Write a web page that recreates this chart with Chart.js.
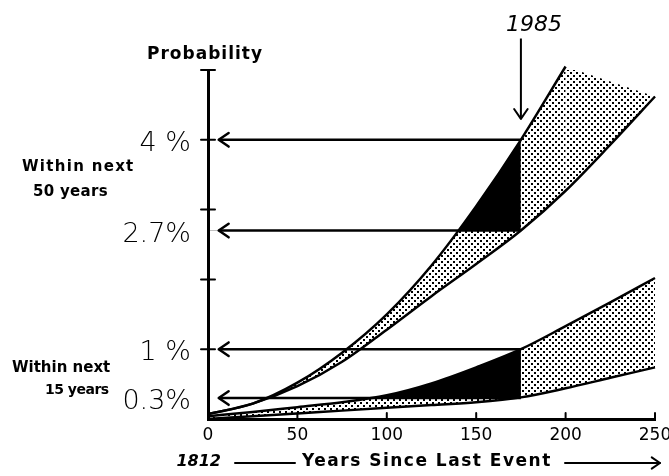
<!DOCTYPE html>
<html>
<head>
<meta charset="utf-8">
<script src="https://cdn.jsdelivr.net/npm/chart.js@4.4.1/dist/chart.umd.min.js"></script>
<style>
  html, body { margin: 0; padding: 0; background: #fff; }
  #wrap { width: 669px; height: 476px; }
</style>
</head>
<body>
<div id="wrap"><canvas id="chart"></canvas></div>
<script>
// years since the last event (1812)
const years = [0, 25, 50, 75, 100, 125, 150, 175, 200, 225, 250];
// probability (%) of an event within the next 50 years, upper / lower bound
const fiftyHigh = [0.07, 0.22, 0.52, 0.95, 1.5, 2.2, 3.05, 4.0, 5.05];
const fiftyLow = [0.07, 0.22, 0.47, 0.82, 1.28, 1.76, 2.22, 2.7, 3.27, 3.93, 4.62];
// probability (%) of an event within the next 15 years, upper / lower bound
const fifteenHigh = [0.04, 0.1, 0.17, 0.24, 0.34, 0.51, 0.74, 1.0, 1.33, 1.67, 2.02];
const fifteenLow = [0, 0.04, 0.08, 0.12, 0.16, 0.2, 0.24, 0.31, 0.44, 0.59, 0.74];

const eventYear = 175;          // 1985
const arrowLevels = [4, 2.7, 1, 0.3];
const arrowTipYear = 6;
const yearArrow = [5.45, 4.3];   // the "1985" arrow, top and tip

const xTicks = [0, 50, 100, 150, 200, 250];
const yTickValues = [0.3, 1, 2.7, 4];
const yTickLabels = ['0.3%', '1 %', '2.7%', '4 %'];
const yTickMarks = [1, 2, 3, 4, 5];

const FONT = '"DejaVu Sans", sans-serif';

function makeDots() {
    const c = document.createElement('canvas');
    c.width = 6;
    c.height = 6;
    const g = c.getContext('2d');
    g.fillStyle = '#000';
    g.fillRect(0, 0, 2, 2);
    g.fillRect(3, 3, 2, 2);
    return g.createPattern(c, 'repeat');
}
const dots = makeDots();

const pts = vals => vals.map((v, i) => ({x: years[i], y: v}));
const upToEvent = vals => pts(vals).filter(p => p.x <= eventYear);

function line(data, extra) {
    return Object.assign({
        data: data,
        borderColor: '#000',
        borderWidth: 2.5,
        pointRadius: 0,
        fill: false,
        cubicInterpolationMode: 'monotone',
        clip: false,
    }, extra);
}

const datasets = [];
arrowLevels.forEach(lvl => {
    datasets.push(line([{x: eventYear, y: lvl}, {x: arrowTipYear, y: lvl}], {
        cubicInterpolationMode: 'default', tension: 0, arrowHead: true,
    }));
});
datasets.push(line([{x: eventYear, y: yearArrow[0]}, {x: eventYear, y: yearArrow[1]}], {
    borderWidth: 2, cubicInterpolationMode: 'default', tension: 0, arrowHead: true,
}));
// black parts: probability gained up to 1985
datasets.push(line(upToEvent(fiftyHigh), {
    borderWidth: 0,
    fill: {target: {value: arrowLevels[1]}, above: '#000', below: 'rgba(0,0,0,0)'},
}));
datasets.push(line(upToEvent(fifteenHigh), {
    borderWidth: 0,
    fill: {target: {value: arrowLevels[3]}, above: '#000', below: 'rgba(0,0,0,0)'},
}));
const fiftyLowIndex = datasets.length + 1;
datasets.push(line(pts(fiftyHigh), {fill: fiftyLowIndex, backgroundColor: dots}));
datasets.push(line(pts(fiftyLow)));
// closes the 50-year band on the right
datasets.push(line([
    {x: years[fiftyHigh.length - 1], y: fiftyHigh[fiftyHigh.length - 1]},
    {x: years[fiftyLow.length - 1], y: fiftyLow[fiftyLow.length - 1]},
], {borderWidth: 0, cubicInterpolationMode: 'default', tension: 0, fill: fiftyLowIndex, backgroundColor: dots}));
datasets.push(line(pts(fifteenHigh), {fill: '+1', backgroundColor: dots}));
datasets.push(line(pts(fifteenLow)));

function chevron(ctx, from, tip, len, spread) {
    const a = Math.atan2(tip.y - from.y, tip.x - from.x);
    ctx.beginPath();
    ctx.moveTo(tip.x - len * Math.cos(a - spread), tip.y - len * Math.sin(a - spread));
    ctx.lineTo(tip.x, tip.y);
    ctx.lineTo(tip.x - len * Math.cos(a + spread), tip.y - len * Math.sin(a + spread));
    ctx.stroke();
}

function text(ctx, str, x, y, font, align, spacing) {
    ctx.font = font;
    ctx.textAlign = align || 'left';
    ctx.letterSpacing = (spacing || 0) + 'px';
    ctx.fillText(str, x, y);
}

const annotations = {
    id: 'annotations',
    afterDraw(chart) {
        const {ctx, scales: {x, y}} = chart;
        ctx.save();
        ctx.strokeStyle = '#000';
        ctx.fillStyle = '#000';
        ctx.lineCap = 'round';
        ctx.lineJoin = 'round';

        chart.data.datasets.forEach((ds, i) => {
            if (!ds.arrowHead) return;
            const p = chart.getDatasetMeta(i).data;
            ctx.lineWidth = ds.borderWidth;
            chevron(ctx, p[p.length - 2], p[p.length - 1], 12, 0.6);
        });

        // tick marks across the axes
        ctx.lineWidth = 2;
        const x0 = x.getPixelForValue(0);
        yTickMarks.forEach(v => {
            const py = y.getPixelForValue(v);
            ctx.beginPath();
            ctx.moveTo(x0 - 7, py);
            ctx.lineTo(x0 + 7, py);
            ctx.stroke();
        });
        const y0 = y.getPixelForValue(0);
        xTicks.slice(1).forEach(v => {
            const px = x.getPixelForValue(v);
            ctx.beginPath();
            ctx.moveTo(px, y0);
            ctx.lineTo(px, y0 - 6);
            ctx.stroke();
        });

        ctx.textBaseline = 'middle';
        text(ctx, 'Probability', 205, 55, 'bold 17px ' + FONT, 'center', 1);
        text(ctx, '1985', x.getPixelForValue(eventYear) + 13, 25, 'italic 22px ' + FONT, 'center', 0);
        text(ctx, 'Within next', 22, 167, 'bold 15px ' + FONT, 'left', 1.3);
        text(ctx, '50 years', 33, 192, 'bold 15px ' + FONT, 'left', 0.3);
        text(ctx, 'Within next', 12, 368, 'bold 15px ' + FONT, 'left', 0);
        text(ctx, '15 years', 45, 390, 'bold 14px ' + FONT, 'left', -0.5);

        // axis title with its arrows
        const ty = 462;
        text(ctx, '1812', 221, ty, 'italic bold 16px ' + FONT, 'right', 0);
        text(ctx, 'Years Since Last Event', 302, ty, 'bold 17px ' + FONT, 'left', 1.5);
        ctx.lineWidth = 2;
        ctx.beginPath();
        ctx.moveTo(235, ty + 1);
        ctx.lineTo(295, ty + 1);
        ctx.moveTo(565, ty + 1);
        ctx.lineTo(660, ty + 1);
        ctx.stroke();
        chevron(ctx, {x: 565, y: ty + 1}, {x: 660, y: ty + 1}, 10, 0.6);
        ctx.restore();
    }
};

new Chart(document.getElementById('chart'), {
    type: 'line',
    data: {datasets: datasets},
    options: {
        responsive: true,
        maintainAspectRatio: false,
        animation: false,
        layout: {padding: {top: 70, right: 14, left: 0, bottom: 0}},
        plugins: {
            legend: {display: false},
            tooltip: {enabled: false},
            filler: {propagate: false},
        },
        scales: {
            x: {
                type: 'linear',
                min: 0,
                max: 250,
                afterBuildTicks: s => { s.ticks = xTicks.map(v => ({value: v})); },
                afterFit: s => { s.height = 57; s.paddingRight = 0; s.paddingLeft = 0; },
                ticks: {color: '#000', font: {family: FONT, size: 17}, padding: 6, maxRotation: 0},
                grid: {drawOnChartArea: false, drawTicks: false},
                border: {color: '#000', width: 3},
            },
            y: {
                type: 'linear',
                min: 0,
                max: 5,
                afterBuildTicks: s => {
                    const vals = [...new Set([...yTickValues, ...yTickMarks])].sort((a, b) => a - b);
                    s.ticks = vals.map(v => ({value: v}));
                },
                afterFit: s => { s.width = 208; },
                ticks: {
                    color: '#000',
                    autoSkip: false,
                    padding: 17,
                    labelOffset: 4,
                    font: {family: FONT, size: 27, weight: '200'},
                    callback: v => {
                        const i = yTickValues.indexOf(v);
                        return i < 0 ? '' : yTickLabels[i];
                    },
                },
                grid: {drawOnChartArea: false, drawTicks: false},
                border: {color: '#000', width: 3},
            },
        },
    },
    plugins: [annotations],
});
</script>
</body>
</html>
